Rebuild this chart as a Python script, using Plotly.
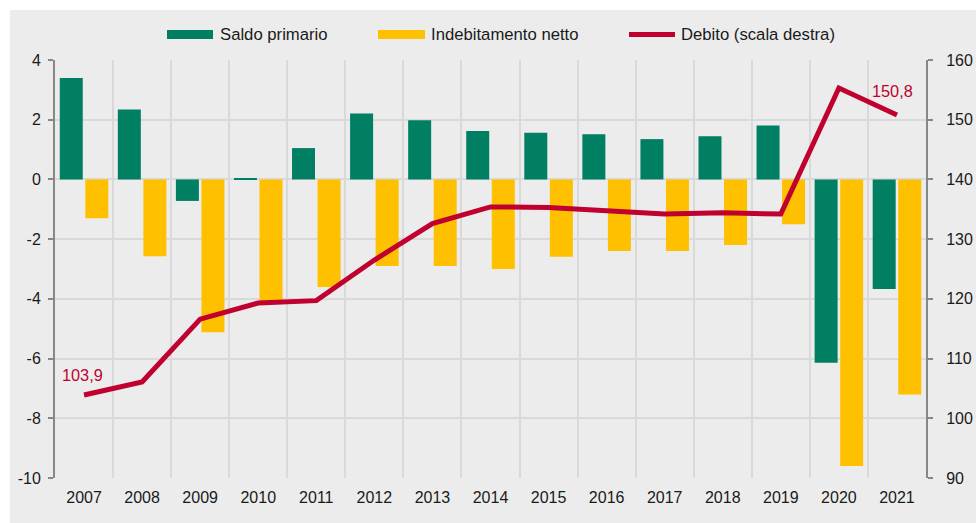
import plotly.graph_objects as go

years = list(range(2007, 2022))
saldo_primario = [3.4, 2.34, -0.72, 0.04, 1.05, 2.21, 1.98, 1.62, 1.56, 1.51, 1.35, 1.45, 1.81, -6.14, -3.67]
indebitamento = [-1.3, -2.57, -5.12, -4.07, -3.6, -2.9, -2.9, -3.0, -2.59, -2.4, -2.4, -2.2, -1.5, -9.6, -7.2]
debito = [103.9, 106.1, 116.6, 119.3, 119.7, 126.5, 132.6, 135.4, 135.3, 134.8, 134.2, 134.4, 134.2, 155.3, 150.8]
y_ticks = [-10, -8, -6, -4, -2, 0, 2, 4]
y2_ticks = [90, 100, 110, 120, 130, 140, 150, 160]

names = ["Saldo primario", "Indebitamento netto", "Debito (scala destra)"]
GREEN = "#007f62"
YELLOW = "#ffc000"
RED = "#c0002f"
AXIS = "#878787"
GRID = "#d9d9d9"
FONT = "Liberation Sans, Arial, sans-serif"

W, H = 976, 523
ML, MR, MT, MB = 55, 50, 60, 45
PW, PH = W - ML - MR, H - MT - MB


def px_x(px):
    return (px - ML) / PW


def px_y(py):
    return (H - MB - py) / PH


fig = go.Figure()
fig.add_trace(go.Bar(x=years, y=saldo_primario, name=names[0], marker=dict(color=GREEN, line=dict(width=0)),
                     showlegend=False))
fig.add_trace(go.Bar(x=years, y=indebitamento, name=names[1], marker=dict(color=YELLOW, line=dict(width=0)),
                     showlegend=False))
fig.add_trace(go.Scatter(x=years, y=debito, name=names[2], yaxis="y2", mode="lines",
                         line=dict(color=RED, width=5), showlegend=False))

# data labels
fig.add_annotation(x=years[0], y=debito[0], xref="x", yref="y2", text="103,9", showarrow=False,
                   yshift=20, xshift=-2, font=dict(size=16.3, color=RED, family=FONT))
fig.add_annotation(x=years[-1], y=debito[-1], xref="x", yref="y2", text="150,8", showarrow=False,
                   yshift=24, xshift=-4, font=dict(size=16.3, color=RED, family=FONT))

shapes = [
    dict(type="rect", xref="paper", yref="paper", x0=px_x(10), x1=px_x(W + 5), y0=px_y(H + 5), y1=px_y(10),
         fillcolor="#ececec", line=dict(width=0), layer="below"),
    # legend swatches
    dict(type="rect", xref="paper", yref="paper", x0=px_x(167), x1=px_x(213), y0=px_y(39), y1=px_y(30),
         fillcolor=GREEN, line=dict(width=0)),
    dict(type="rect", xref="paper", yref="paper", x0=px_x(378), x1=px_x(425), y0=px_y(39), y1=px_y(30),
         fillcolor=YELLOW, line=dict(width=0)),
    dict(type="line", xref="paper", yref="paper", x0=px_x(629), x1=px_x(675), y0=px_y(34.5), y1=px_y(34.5),
         line=dict(color=RED, width=5)),
]
for nm, px in zip(names, [218, 429, 679]):
    fig.add_annotation(x=px_x(px), y=px_y(34.5), xref="paper", yref="paper", text=nm, showarrow=False,
                       xanchor="left", yanchor="middle", font=dict(size=16.7, color="#1a1a1a", family=FONT))

fig.update_layout(
    width=W, height=H,
    margin=dict(l=ML, r=MR, t=MT, b=MB, pad=0, autoexpand=False),
    paper_bgcolor="white",
    plot_bgcolor="rgba(0,0,0,0)",
    barmode="group", bargap=0.12, bargroupgap=0.1,
    font=dict(family=FONT, size=16, color="#1a1a1a"),
    showlegend=False,
    shapes=shapes,
    xaxis=dict(range=[2006.5, 2021.5], tickmode="array", tickvals=years, ticktext=[str(y) for y in years],
               showgrid=False, showline=False, zeroline=False, ticks="", ticklabelstandoff=8, automargin=False,
               minor=dict(tick0=2006.5, dtick=1, showgrid=True, gridcolor=GRID, gridwidth=2, ticks="")),
    xaxis2=dict(range=[2006.5, 2021.5], overlaying="x", anchor="free", position=10 / 14, side="bottom",
                showline=True, linecolor=AXIS, linewidth=2, tickmode="array", automargin=False,
                tickvals=[y + 0.5 for y in years[:-1]], ticks="outside", ticklen=5, tickwidth=2,
                tickcolor=AXIS, showticklabels=False, showgrid=False, zeroline=False),
    yaxis=dict(range=[-10, 4], tickmode="array", tickvals=y_ticks, ticktext=[str(v) for v in y_ticks],
               showgrid=True, gridcolor=GRID, gridwidth=2, zeroline=False, automargin=False,
               showline=True, linecolor=AXIS, linewidth=2, ticks="outside", ticklen=5, tickwidth=2,
               tickcolor=AXIS, ticklabelstandoff=4),
    yaxis2=dict(range=[90, 160], tickmode="array", tickvals=y2_ticks, ticktext=[str(v) for v in y2_ticks],
                overlaying="y", side="right", showgrid=False, zeroline=False, automargin=False,
                showline=True, linecolor=AXIS, linewidth=2, ticks="outside", ticklen=5, tickwidth=2,
                tickcolor=AXIS, ticklabelstandoff=10),
)

fig.write_html("out.html", config={"displayModeBar": False},
               post_script="document.body.style.margin='0';document.body.style.overflow='hidden';")
